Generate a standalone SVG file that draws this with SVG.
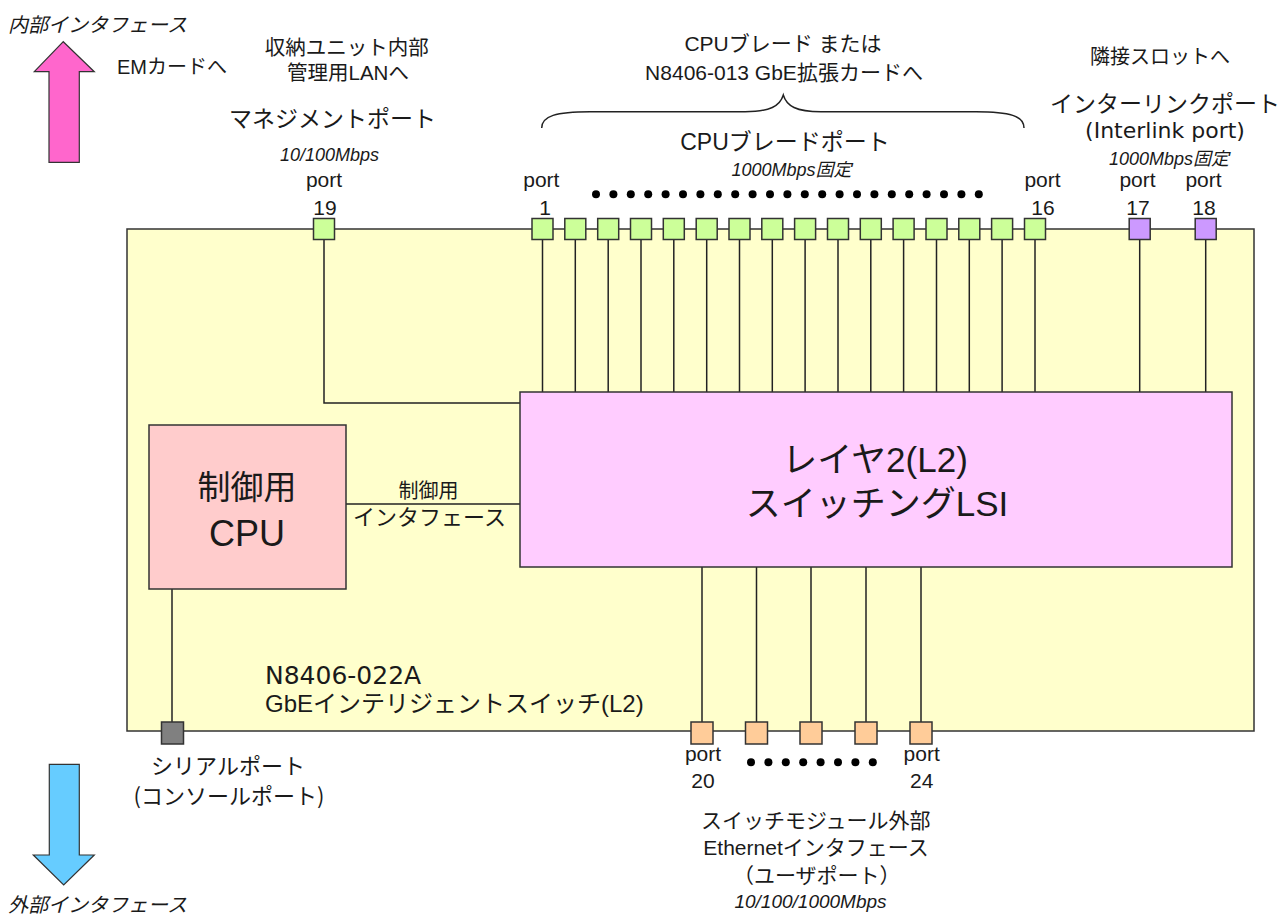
<svg xmlns="http://www.w3.org/2000/svg" width="1281" height="916" viewBox="0 0 1281 916">
<style>
.t{font-family:"Liberation Sans","Noto Sans CJK JP",sans-serif;fill:#1a1a1a;}
.j{font-family:"Noto Sans CJK JP","Liberation Sans",sans-serif;fill:#1a1a1a;}
.d{font-family:"DejaVu Sans","Noto Sans CJK JP",sans-serif;fill:#1a1a1a;}
.i{font-style:italic;}
.ln{stroke:#222;stroke-width:1.5;fill:none;}
.box{stroke:#333;stroke-width:1.5;}
.pg{fill:#ccff99;stroke:#333;stroke-width:1.5;}
.pp{fill:#cc99ff;stroke:#333;stroke-width:1.5;}
.po{fill:#ffcc99;stroke:#333;stroke-width:1.5;}
.dot{fill:#000;}
</style>
<rect width="1281" height="916" fill="#fff"/>

<g id="switch-board">
<rect x="127" y="229" width="1127" height="502" fill="#ffffcc" class="box"/>
<text class="d" x="265" y="684" font-size="25">N8406-022A</text>
<text class="t" x="265" y="712" font-size="24">GbEインテリジェントスイッチ(L2)</text>
</g>

<g id="connectors">
<polyline class="ln" points="324,239 324,403 520,403"/>
<line class="ln" x1="346" y1="504" x2="520" y2="504"/>
<line class="ln" x1="172" y1="589" x2="172" y2="722"/>
<line class="ln" x1="542.5" y1="239" x2="542.5" y2="392"/>
<line class="ln" x1="575.3" y1="239" x2="575.3" y2="392"/>
<line class="ln" x1="608.2" y1="239" x2="608.2" y2="392"/>
<line class="ln" x1="641" y1="239" x2="641" y2="392"/>
<line class="ln" x1="673.8" y1="239" x2="673.8" y2="392"/>
<line class="ln" x1="706.7" y1="239" x2="706.7" y2="392"/>
<line class="ln" x1="739.5" y1="239" x2="739.5" y2="392"/>
<line class="ln" x1="772.3" y1="239" x2="772.3" y2="392"/>
<line class="ln" x1="805.1" y1="239" x2="805.1" y2="392"/>
<line class="ln" x1="838" y1="239" x2="838" y2="392"/>
<line class="ln" x1="870.8" y1="239" x2="870.8" y2="392"/>
<line class="ln" x1="903.6" y1="239" x2="903.6" y2="392"/>
<line class="ln" x1="936.5" y1="239" x2="936.5" y2="392"/>
<line class="ln" x1="969.3" y1="239" x2="969.3" y2="392"/>
<line class="ln" x1="1002.1" y1="239" x2="1002.1" y2="392"/>
<line class="ln" x1="1035" y1="239" x2="1035" y2="392"/>
<line class="ln" x1="1139.7" y1="239" x2="1139.7" y2="392"/>
<line class="ln" x1="1205.7" y1="239" x2="1205.7" y2="392"/>
<line class="ln" x1="702" y1="567" x2="702" y2="722"/>
<line class="ln" x1="756.5" y1="567" x2="756.5" y2="722"/>
<line class="ln" x1="811" y1="567" x2="811" y2="722"/>
<line class="ln" x1="866" y1="567" x2="866" y2="722"/>
<line class="ln" x1="921" y1="567" x2="921" y2="722"/>
</g>

<g id="l2-lsi">
<rect x="520" y="392" width="712" height="175" fill="#ffccff" class="box"/>
<text class="t" x="875" y="472" font-size="35" text-anchor="middle">レイヤ2(L2)</text>
<text class="t" x="877" y="516" font-size="35" text-anchor="middle">スイッチングLSI</text>
</g>

<g id="cpu">
<rect x="149" y="425" width="197" height="164" fill="#ffcccc" class="box"/>
<text class="j" x="247" y="499" font-size="33" text-anchor="middle">制御用</text>
<text class="t" x="247" y="546" font-size="36" text-anchor="middle">CPU</text>
</g>

<g id="ctrl-if-label">
<text class="t" x="428.5" y="498" font-size="20" text-anchor="middle">制御用</text>
<text class="t" x="429.5" y="525" font-size="22" text-anchor="middle">インタフェース</text>
</g>

<g id="port19">
<rect x="313.5" y="218.5" width="21" height="21" class="pg"/>
<text class="t" x="324" y="187" font-size="21" text-anchor="middle">port</text>
<text class="t" x="325" y="215" font-size="21" text-anchor="middle">19</text>
<text class="t i" x="329.5" y="161" font-size="18" text-anchor="middle">10/100Mbps</text>
<text class="j" x="332.5" y="127" font-size="23" text-anchor="middle">マネジメントポート</text>
<text class="t" x="346.7" y="55" font-size="20.5" text-anchor="middle">収納ユニット内部</text>
<text class="t" x="348" y="80" font-size="20.5" text-anchor="middle">管理用LANへ</text>
</g>

<g id="cpu-blade-ports">
<rect x="532" y="218.5" width="21" height="21" class="pg"/>
<rect x="564.8" y="218.5" width="21" height="21" class="pg"/>
<rect x="597.7" y="218.5" width="21" height="21" class="pg"/>
<rect x="630.5" y="218.5" width="21" height="21" class="pg"/>
<rect x="663.3" y="218.5" width="21" height="21" class="pg"/>
<rect x="696.2" y="218.5" width="21" height="21" class="pg"/>
<rect x="729" y="218.5" width="21" height="21" class="pg"/>
<rect x="761.8" y="218.5" width="21" height="21" class="pg"/>
<rect x="794.6" y="218.5" width="21" height="21" class="pg"/>
<rect x="827.5" y="218.5" width="21" height="21" class="pg"/>
<rect x="860.3" y="218.5" width="21" height="21" class="pg"/>
<rect x="893.1" y="218.5" width="21" height="21" class="pg"/>
<rect x="926" y="218.5" width="21" height="21" class="pg"/>
<rect x="958.8" y="218.5" width="21" height="21" class="pg"/>
<rect x="991.6" y="218.5" width="21" height="21" class="pg"/>
<rect x="1024.5" y="218.5" width="21" height="21" class="pg"/>
<text class="t" x="541.3" y="187" font-size="21" text-anchor="middle">port</text>
<text class="t" x="545" y="215" font-size="21" text-anchor="middle">1</text>
<text class="t" x="1042.5" y="187" font-size="21" text-anchor="middle">port</text>
<text class="t" x="1043" y="215" font-size="21" text-anchor="middle">16</text>
<g class="dot">
<circle cx="596" cy="194.3" r="4"/><circle cx="613.4" cy="194.3" r="4"/><circle cx="630.8" cy="194.3" r="4"/><circle cx="648.2" cy="194.3" r="4"/><circle cx="665.6" cy="194.3" r="4"/><circle cx="683" cy="194.3" r="4"/><circle cx="700.4" cy="194.3" r="4"/><circle cx="717.8" cy="194.3" r="4"/><circle cx="735.2" cy="194.3" r="4"/><circle cx="752.6" cy="194.3" r="4"/><circle cx="770" cy="194.3" r="4"/><circle cx="787.4" cy="194.3" r="4"/><circle cx="804.8" cy="194.3" r="4"/><circle cx="822.2" cy="194.3" r="4"/><circle cx="839.6" cy="194.3" r="4"/><circle cx="857" cy="194.3" r="4"/><circle cx="874.4" cy="194.3" r="4"/><circle cx="891.8" cy="194.3" r="4"/><circle cx="909.2" cy="194.3" r="4"/><circle cx="926.6" cy="194.3" r="4"/><circle cx="944" cy="194.3" r="4"/><circle cx="961.4" cy="194.3" r="4"/><circle cx="978.8" cy="194.3" r="4"/>
</g>
<text class="t i" x="791.5" y="176" font-size="18" text-anchor="middle">1000Mbps固定</text>
<text class="t" x="785" y="150" font-size="23" text-anchor="middle">CPUブレードポート</text>
<path class="ln" d="M541.7,128 C541.7,116 556,111.7 590,111.7 L745,111.7 C770,111.7 780,106 783.3,95 C786.6,106 796,111.7 821,111.7 L976,111.7 C1010,111.7 1024,116 1024,128"/>
<text class="t" x="783" y="51" font-size="21" text-anchor="middle">CPUブレード または</text>
<text class="t" x="784" y="79.5" font-size="21" text-anchor="middle">N8406-013 GbE拡張カードへ</text>
</g>

<g id="interlink-ports">
<rect x="1129.2" y="218.5" width="21" height="21" class="pp"/>
<rect x="1195.2" y="218.5" width="21" height="21" class="pp"/>
<text class="t" x="1137.5" y="187" font-size="21" text-anchor="middle">port</text>
<text class="t" x="1138" y="215" font-size="21" text-anchor="middle">17</text>
<text class="t" x="1203.5" y="187" font-size="21" text-anchor="middle">port</text>
<text class="t" x="1204" y="215" font-size="21" text-anchor="middle">18</text>
<text class="t i" x="1169" y="165" font-size="18" text-anchor="middle">1000Mbps固定</text>
<text class="d" x="1165" y="138" font-size="22" text-anchor="middle">(Interlink port)</text>
<text class="j" x="1165" y="112" font-size="23" text-anchor="middle">インターリンクポート</text>
<text class="j" x="1160" y="64" font-size="20" text-anchor="middle">隣接スロットへ</text>
</g>

<g id="user-ports">
<rect x="691" y="722" width="22" height="22" class="po"/>
<rect x="745.5" y="722" width="22" height="22" class="po"/>
<rect x="800" y="722" width="22" height="22" class="po"/>
<rect x="855" y="722" width="22" height="22" class="po"/>
<rect x="910" y="722" width="22" height="22" class="po"/>
<text class="t" x="703" y="761" font-size="21" text-anchor="middle">port</text>
<text class="t" x="703" y="788" font-size="21" text-anchor="middle">20</text>
<text class="t" x="921.7" y="761" font-size="21" text-anchor="middle">port</text>
<text class="t" x="921.7" y="788" font-size="21" text-anchor="middle">24</text>
<g class="dot">
<circle cx="751" cy="762.3" r="4"/><circle cx="768.4" cy="762.3" r="4"/><circle cx="785.8" cy="762.3" r="4"/><circle cx="803.2" cy="762.3" r="4"/><circle cx="820.6" cy="762.3" r="4"/><circle cx="838" cy="762.3" r="4"/><circle cx="855.4" cy="762.3" r="4"/><circle cx="872.8" cy="762.3" r="4"/>
</g>
<text class="j" x="815.8" y="828" font-size="21" text-anchor="middle">スイッチモジュール外部</text>
<text class="t" x="816" y="855" font-size="21" text-anchor="middle">Ethernetインタフェース</text>
<text class="j" x="816.7" y="883" font-size="21" text-anchor="middle">（ユーザポート）</text>
<text class="t i" x="810.5" y="908" font-size="19" text-anchor="middle">10/100/1000Mbps</text>
</g>

<g id="serial-port">
<rect x="161.5" y="722" width="22" height="22" fill="#808080" stroke="#333" stroke-width="1.5"/>
<text class="j" x="228" y="774" font-size="22" text-anchor="middle">シリアルポート</text>
<text class="j" x="229" y="804" font-size="22" text-anchor="middle">(コンソールポート)</text>
</g>

<g id="internal-arrow">
<polygon points="63.3,41.7 94.3,71.7 79.3,71.7 79.3,162.3 49,162.3 49,71.7 34.3,71.7" fill="#ff66cc" stroke="#333" stroke-width="1.2"/>
<text class="j i" x="8" y="32" font-size="20">内部インタフェース</text>
<text class="t" x="117" y="74" font-size="20">EMカードへ</text>
</g>

<g id="external-arrow">
<polygon points="49.3,764.3 79.3,764.3 79.3,855 94.3,855 63.7,885 33.3,855 49.3,855" fill="#66ccff" stroke="#333" stroke-width="1.2"/>
<text class="j i" x="8" y="912" font-size="20">外部インタフェース</text>
</g>
</svg>
